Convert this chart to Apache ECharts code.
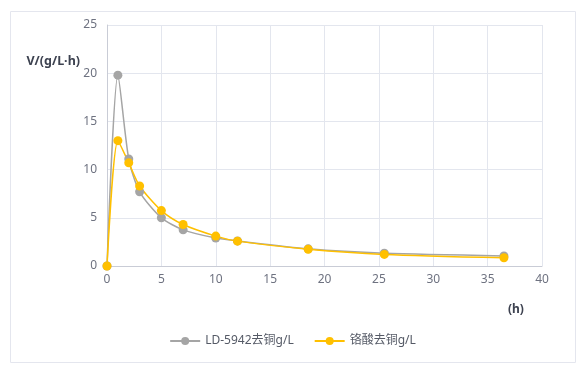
<!DOCTYPE html>
<html><head><meta charset="utf-8">
<script src="https://cdn.jsdelivr.net/npm/echarts@6/dist/echarts.min.js"></script>
<style>html,body{margin:0;padding:0;background:#fff}#c{width:585px;height:370px}</style>
</head><body><div id="c"></div>
<script>
var hours = [0, 1, 2, 3, 5, 7, 10, 12, 18.5, 25.5, 36.5];
var ldValues = [0, 19.8, 11.1, 7.7, 5.0, 3.75, 2.9, 2.6, 1.78, 1.32, 1.05];
var crValues = [0, 13.0, 10.7, 8.3, 5.75, 4.3, 3.1, 2.58, 1.74, 1.2, 0.85];
var seriesNames = ['LD-5942去铜g/L', '铬酸去铜g/L'];
var yAxisName = 'V/(g/L·h)';
var xAxisName = '(h)';

function pairs(xs, ys){ return xs.map(function(x,i){ return [x, ys[i]]; }); }

var chart = echarts.init(document.getElementById('c'), null, {renderer:'canvas'});
var font = '"Noto Sans", "Noto Sans CJK SC", sans-serif';
chart.setOption({
  animation: false,
  textStyle: {fontFamily: font},
  graphic: [{
    type: 'rect', left: 8, top: 9, z: -1,
    shape: {width: 565, height: 351},
    style: {fill: 'none', stroke: '#e4e6ee', lineWidth: 1}
  }],
  grid: {left: 107, right: 43, top: 25, bottom: 104, containLabel: false},
  legend: {
    bottom: 18, left: 'center', itemGap: 20, itemWidth: 30, itemHeight: 10,
    textStyle: {color: '#555a66', fontSize: 12, fontFamily: font},
    data: seriesNames
  },
  xAxis: {
    type: 'value', min: 0, max: 40, interval: 5,
    name: xAxisName, nameLocation: 'end', nameGap: 0,
    nameTextStyle: {color: '#3d4250', fontWeight: 'bold', fontSize: 12, padding: [38, 0, 0, -34], verticalAlign: 'top'},
    axisLine: {show: true, lineStyle: {color: '#c9ccd6'}},
    axisTick: {show: false},
    axisLabel: {color: '#6e7280', fontSize: 12, margin: 8},
    splitLine: {show: true, lineStyle: {color: '#e3e6ee'}}
  },
  yAxis: {
    type: 'value', min: 0, max: 25, interval: 5,
    name: yAxisName, nameLocation: 'end', nameGap: 0,
    nameTextStyle: {color: '#3d4250', fontWeight: 'bold', fontSize: 12.5, align: 'right', padding: [0, 27, -50, 0]},
    axisLine: {show: true, lineStyle: {color: '#c9ccd6'}},
    axisTick: {show: false},
    axisLabel: {color: '#6e7280', fontSize: 12, margin: 10},
    splitLine: {show: true, lineStyle: {color: '#e3e6ee'}}
  },
  series: [{
    name: seriesNames[0], type: 'line', smooth: 0.25,
    data: pairs(hours, ldValues),
    symbol: 'circle', symbolSize: 9,
    itemStyle: {color: '#a5a5a5'},
    lineStyle: {color: '#a5a5a5', width: 1.5}
  }, {
    name: seriesNames[1], type: 'line', smooth: 0.25,
    data: pairs(hours, crValues),
    symbol: 'circle', symbolSize: 9,
    itemStyle: {color: '#ffc000'},
    lineStyle: {color: '#ffc000', width: 1.5}
  }]
});
</script></body></html>
